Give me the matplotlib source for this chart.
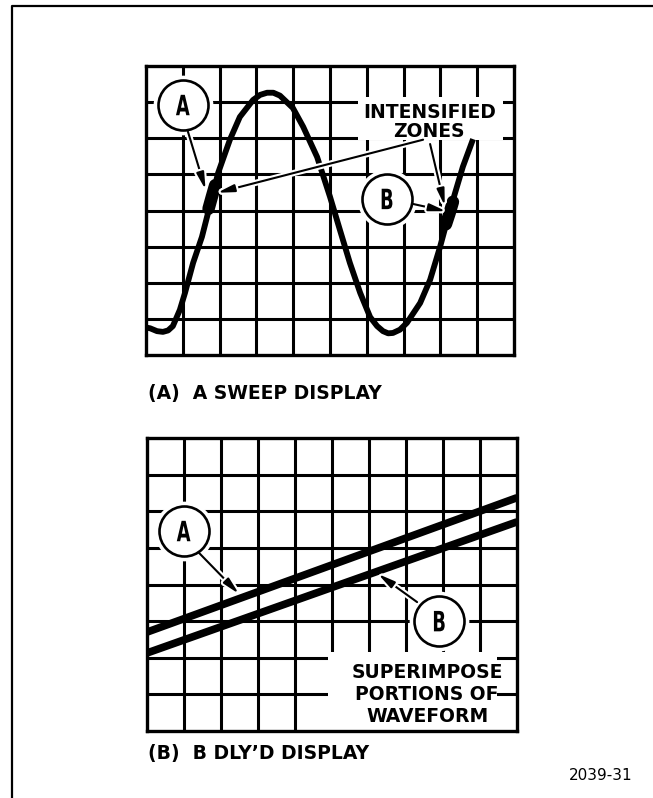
"""
Oscilloscope graticule sketch: A sweep vs B delayed sweep
"""
import matplotlib
matplotlib.use("Agg")
import matplotlib.pyplot as plt
import matplotlib.transforms as mtransforms
import matplotlib.patheffects as pe
from matplotlib.patches import Rectangle, PathPatch
from matplotlib.lines import Line2D
from matplotlib.textpath import TextPath
from matplotlib.font_manager import FontProperties

# graticule size (divisions)
N_COLS = 10
N_ROWS = 8

sweep_x = [0.00, 0.11, 0.30, 0.46, 0.60, 0.73, 0.92, 1.06, 1.28, 1.52, 1.74,
           1.96, 2.28, 2.55, 2.91, 3.10, 3.29, 3.46, 3.64, 3.99, 4.27, 4.65,
           5.00, 5.27, 5.54, 5.82, 6.09, 6.28, 6.44, 6.58, 6.71, 6.90, 7.09,
           7.45, 7.72, 7.99, 8.21, 8.40, 8.61, 8.86]
sweep_y = [0.76, 0.74, 0.66, 0.64, 0.68, 0.80, 1.25, 1.72, 2.55, 3.27, 4.15,
           5.04, 5.96, 6.59, 7.06, 7.20, 7.26, 7.26, 7.18, 6.84, 6.32, 5.48,
           4.38, 3.46, 2.55, 1.72, 1.05, 0.80, 0.66, 0.60, 0.61, 0.70, 0.89,
           1.44, 2.08, 2.99, 3.82, 4.49, 5.21, 5.90]

# intensified zones on the A sweep
zone_a_x = [1.70, 1.79, 1.88]
zone_a_y = [4.05, 4.38, 4.70]
zone_b_x = [8.15, 8.25, 8.34]
zone_b_y = [3.62, 3.93, 4.24]

# (B) delayed sweep: two superimposed portions
dly_x = [0, 10]
dly_a_y = [2.70, 6.37]
dly_b_y = [2.13, 5.71]

W, H = 653, 798
BOLD = dict(fontsize=13.5, fontweight="bold", family="DejaVu Sans")

fig = plt.figure(figsize=(W / 100, H / 100), dpi=100)


def px_rect(x0, y0, x1, y1):
    return [x0 / W, 1 - y1 / H, (x1 - x0) / W, (y1 - y0) / H]


def make_screen(rect):
    ax = fig.add_axes(rect)
    ax.set_xticks(range(1, N_COLS))
    ax.set_yticks(range(1, N_ROWS))
    ax.tick_params(length=0, labelbottom=False, labelleft=False)
    ax.grid(True, color="black", lw=2.2)
    ax.set_axisbelow(True)
    for s in ax.spines.values():
        s.set_linewidth(2.4)
        s.set_zorder(10)
    ax.set_autoscale_on(False)
    ax.set_xlim(0, N_COLS)
    ax.set_ylim(0, N_ROWS)
    return ax


def circle_label(ax, x, y, letter):
    ax.plot([x], [y], "o", ms=43, mfc="white", mec="none", zorder=5)
    ax.plot([x], [y], "o", ms=36, mfc="white", mec="black", mew=1.9, zorder=6)
    tp = TextPath((0, 0), letter, size=28,
                  prop=FontProperties(family="DejaVu Sans", weight="bold"))
    bb = tp.get_extents()
    tr = (mtransforms.Affine2D()
          .translate(-(bb.x0 + bb.x1) / 2, -(bb.y0 + bb.y1) / 2)
          .scale(0.64, 1.0)
          + mtransforms.ScaledTranslation(x, y, ax.transData))
    ax.add_patch(PathPatch(tp, transform=tr, fc="black", ec="none", zorder=7))


def pointer(ax, start, tip):
    ax.annotate("", xy=tip, xytext=start, zorder=6,
                arrowprops=dict(arrowstyle="-|>,head_length=1.0,head_width=0.22",
                                lw=1.5, color="black", shrinkA=0, shrinkB=0,
                                mutation_scale=10,
                                path_effects=[pe.withStroke(linewidth=4.5, foreground="white")]))


# ---- (A) A sweep display ----
ax1 = make_screen(px_rect(146, 66, 514, 355))
ax1.add_patch(Rectangle((5.75, 5.95), 3.95, 1.2, fc="white", ec="none", zorder=2))
ax1.plot(sweep_x, sweep_y, color="black", lw=4.2, solid_joinstyle="round", zorder=4)
ax1.plot(zone_a_x, zone_a_y, color="black", lw=9, solid_capstyle="round", zorder=5)
ax1.plot(zone_b_x, zone_b_y, color="black", lw=9, solid_capstyle="round", zorder=5)
pointer(ax1, (1.14, 6.18), (1.62, 4.57))
pointer(ax1, (7.53, 5.96), (1.93, 4.49))
pointer(ax1, (7.72, 5.84), (8.12, 4.12))
pointer(ax1, (7.26, 4.18), (8.16, 3.98))
circle_label(ax1, 1.0, 6.92, "A")
circle_label(ax1, 6.55, 4.32, "B")
ax1.text(7.72, 6.57, "INTENSIFIED", ha="center", va="baseline", zorder=7, **BOLD)
ax1.text(7.68, 6.04, "ZONES", ha="center", va="baseline", zorder=7, **BOLD)

# ---- (B) B delayed display ----
ax2 = make_screen(px_rect(147, 438, 517, 731))
ax2.add_patch(Rectangle((4.89, 0.0), 4.57, 2.16, fc="white", ec="none", zorder=2))
ax2.plot(dly_x, dly_a_y, color="black", lw=5.5, solid_capstyle="butt", zorder=4)
ax2.plot(dly_x, dly_b_y, color="black", lw=5.5, solid_capstyle="butt", zorder=4)
pointer(ax2, (1.38, 4.89), (2.49, 3.74))
pointer(ax2, (7.30, 3.52), (6.24, 4.29))
circle_label(ax2, 0.99, 5.46, "A")
circle_label(ax2, 7.9, 3.0, "B")
for label, yb in zip(["SUPERIMPOSE", "PORTIONS OF", "WAVEFORM"], [1.45, 0.85, 0.25]):
    ax2.text(7.57, yb, label, ha="center", va="baseline", zorder=7, **BOLD)

# captions
fig.text(148 / W, 1 - 398.5 / H, "(A)  A SWEEP DISPLAY", ha="left", va="baseline", **BOLD)
fig.text(148 / W, 1 - 759.5 / H, "(B)  B DLY\u2019D DISPLAY", ha="left", va="baseline", **BOLD)
fig.text(632 / W, 1 - 780.5 / H, "2039-31", ha="right", va="baseline",
         fontsize=11, family="DejaVu Sans")

# page frame
fig.add_artist(Line2D([11.5 / W, 11.5 / W, 1.0], [0.0, 1 - 6 / H, 1 - 6 / H],
                      color="black", lw=1.6))

fig.savefig("out.png", dpi=100)
